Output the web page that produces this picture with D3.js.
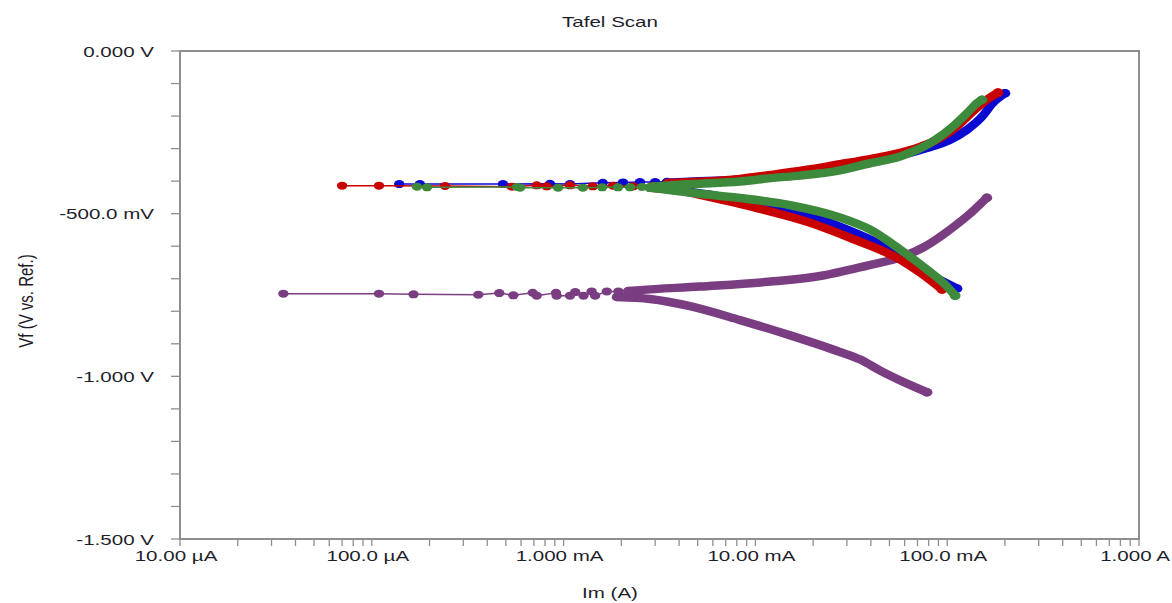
<!DOCTYPE html>
<html>
<head>
<meta charset="utf-8">
<script src="https://cdn.jsdelivr.net/npm/d3@7"></script>
<style>
  html, body { margin: 0; padding: 0; background: #fff; }
  svg { display: block; font-family: "Liberation Sans", Arial, sans-serif; }
</style>
</head>
<body>
<svg id="chart" width="1172" height="603"></svg>
<script>
// Axis ticks and their labels
const xTickValues = [1e-5, 1e-4, 1e-3, 1e-2, 1e-1, 1];
const xTickLabels = ["10.00 µA", "100.0 µA", "1.000 mA", "10.00 mA", "100.0 mA", "1.000 A"];
const yTickValues = [0, -0.5, -1.0, -1.5];
const yTickLabels = ["0.000 V", "-500.0 mV", "-1.000 V", "-1.500 V"];

// Each scan: [current (A), potential (V)]
// Sparse readings close to the corrosion potential
const redNear = [[7.0e-5,-0.414],[1.09e-4,-0.414],[2.41e-4,-0.415],[5.36e-4,-0.417],[7.24e-4,-0.413],[8.17e-4,-0.416],[1.08e-3,-0.413],[1.42e-3,-0.416],[1.81e-3,-0.414],[2.30e-3,-0.416],[2.93e-3,-0.414],[3.46e-3,-0.414]];
const blueNear = [[1.39e-4,-0.409],[1.78e-4,-0.409],[4.83e-4,-0.409],[8.49e-4,-0.408],[1.08e-3,-0.409],[1.60e-3,-0.405],[2.04e-3,-0.404],[2.50e-3,-0.403],[3.00e-3,-0.403],[3.46e-3,-0.402]];
const greenNear = [[1.72e-4,-0.417],[1.94e-4,-0.419],[5.71e-4,-0.418],[5.93e-4,-0.420],[9.35e-4,-0.420],[1.26e-3,-0.420],[1.59e-3,-0.419],[1.92e-3,-0.419],[2.22e-3,-0.419],[2.56e-3,-0.418],[2.93e-3,-0.418]];
const purpleNear = [[3.46e-5,-0.746],[1.09e-4,-0.746],[1.65e-4,-0.748],[3.59e-4,-0.749],[4.62e-4,-0.744],[5.47e-4,-0.751],[6.90e-4,-0.743],[7.24e-4,-0.752],[9.13e-4,-0.743],[9.20e-4,-0.752],[1.08e-3,-0.752],[1.15e-3,-0.741],[1.27e-3,-0.752],[1.40e-3,-0.739],[1.46e-3,-0.752],[1.68e-3,-0.739],[1.93e-3,-0.739],[2.18e-3,-0.738]];

// Anodic branches (dense readings)
const redAnodic = [[3.5e-3,-0.406],[5.14e-3,-0.402],[8.31e-3,-0.393],[1.24e-2,-0.380],[1.86e-2,-0.365],[2.76e-2,-0.348],[3.82e-2,-0.334],[5.68e-2,-0.313],[6.96e-2,-0.298],[9.17e-2,-0.268],[0.1125,-0.232],[0.136,-0.186],[0.161,-0.150],[0.184,-0.128]];
const blueAnodic = [[3.46e-3,-0.405],[5.14e-3,-0.400],[8.31e-3,-0.396],[1.24e-2,-0.387],[1.86e-2,-0.374],[2.76e-2,-0.359],[3.96e-2,-0.340],[5.68e-2,-0.321],[7.85e-2,-0.298],[0.1034,-0.273],[0.127,-0.242],[0.152,-0.202],[0.173,-0.160],[0.200,-0.130]];
const greenAnodic = [[2.93e-3,-0.417],[4.05e-3,-0.411],[5.14e-3,-0.408],[8.31e-3,-0.401],[1.24e-2,-0.390],[1.71e-2,-0.383],[2.76e-2,-0.367],[3.96e-2,-0.345],[5.68e-2,-0.324],[8.43e-2,-0.278],[0.1072,-0.232],[0.127,-0.191],[0.143,-0.160],[0.152,-0.150]];
const purpleAnodic = [[2.18e-3,-0.738],[2.50e-3,-0.735],[5.14e-3,-0.724],[1.24e-2,-0.708],[2.25e-2,-0.690],[3.11e-2,-0.672],[4.10e-2,-0.656],[5.68e-2,-0.635],[7.66e-2,-0.601],[0.1034,-0.549],[0.1315,-0.500],[0.161,-0.451]];

// Cathodic branches (dense readings)
const redCathodic = [[2.82e-3,-0.420],[4.05e-3,-0.429],[5.59e-3,-0.447],[1.02e-2,-0.483],[1.86e-2,-0.525],[3.11e-2,-0.574],[5.68e-2,-0.641],[7.22e-2,-0.681],[9.40e-2,-0.733]];
const blueCathodic = [[3.46e-3,-0.423],[5.80e-3,-0.442],[1.06e-2,-0.472],[1.71e-2,-0.497],[2.76e-2,-0.540],[5.68e-2,-0.626],[8.14e-2,-0.687],[0.1125,-0.730]];
const greenCathodic = [[2.82e-3,-0.420],[3.72e-3,-0.429],[5.14e-3,-0.439],[8.31e-3,-0.452],[1.52e-2,-0.474],[2.76e-2,-0.512],[3.96e-2,-0.549],[5.68e-2,-0.610],[7.85e-2,-0.672],[9.98e-2,-0.724],[0.110,-0.752]];
const purpleCathodic = [[1.90e-3,-0.756],[2.82e-3,-0.762],[4.56e-3,-0.784],[8.31e-3,-0.827],[1.52e-2,-0.874],[2.76e-2,-0.925],[3.51e-2,-0.948],[4.46e-2,-0.982],[6.10e-2,-1.021],[7.85e-2,-1.049]];

const series = [
  { color: "#7b3d81", near: purpleNear, anodic: purpleAnodic, cathodic: purpleCathodic },
  { color: "#0a0ad2", near: blueNear, anodic: blueAnodic, cathodic: blueCathodic },
  { color: "#c80000", near: redNear, anodic: redAnodic, cathodic: redCathodic },
  { color: "#3d8a3d", near: greenNear, anodic: greenAnodic, cathodic: greenCathodic }
];

const SX = 1.37;            // horizontal glyph stretch of the text
const textColor = "#1e1e2a";
const frameColor = "#8e8e8e";

const svg = d3.select("#chart");
const plot = { left: 180, right: 1139, top: 51, bottom: 539 };

const x = d3.scaleLog().domain([1e-5, 1]).range([plot.left, plot.right]);
const y = d3.scaleLinear().domain([0, -1.5]).range([plot.top, plot.bottom]);

svg.append("rect").attr("width", 1172).attr("height", 603).attr("fill", "#fff");

// Frame
svg.append("rect")
  .attr("x", plot.left).attr("y", plot.top)
  .attr("width", plot.right - plot.left).attr("height", plot.bottom - plot.top)
  .attr("fill", "none").attr("stroke", frameColor).attr("stroke-width", 2);

// Y ticks (every 100 mV)
const yTicks = d3.range(0, 16).map(i => -i / 10);
svg.append("g").selectAll("line").data(yTicks).join("line")
  .attr("x1", plot.left - 9).attr("x2", plot.left)
  .attr("y1", d => y(d)).attr("y2", d => y(d))
  .attr("stroke", frameColor).attr("stroke-width", 1.3);

// X ticks (log minor ticks)
svg.append("g").selectAll("line").data(x.ticks()).join("line")
  .attr("x1", d => x(d)).attr("x2", d => x(d))
  .attr("y1", plot.bottom).attr("y2", plot.bottom + 7)
  .attr("stroke", frameColor).attr("stroke-width", 1.3);

function stretchedText(g, tx, ty, str, anchor) {
  g.append("text")
    .attr("transform", `translate(${tx},${ty}) scale(${SX},1)`)
    .attr("text-anchor", anchor)
    .attr("fill", textColor)
    .attr("font-size", 15)
    .text(str);
}

const labels = svg.append("g");
yTickValues.forEach((v, i) => stretchedText(labels, 154, y(v) + 5.5, yTickLabels[i], "end"));
xTickValues.forEach((v, i) => stretchedText(labels, x(v) - 4, 561, xTickLabels[i], "middle"));

// Title and axis titles
stretchedText(labels, 610, 27, "Tafel Scan", "middle");
stretchedText(labels, 610, 598, "Im (A)", "middle");
labels.append("text")
  .attr("transform", `translate(33,301) scale(${SX},1) rotate(-90)`)
  .attr("text-anchor", "middle")
  .attr("fill", textColor)
  .attr("font-size", 15)
  .text("Vf (V vs. Ref.)");

// Curves
const thin = d3.line().x(d => x(d[0])).y(d => y(d[1]));
const smooth = d3.line().x(d => x(d[0])).y(d => y(d[1])).curve(d3.curveMonotoneX);

const marks = svg.append("g");
series.forEach(s => {
  const g = marks.append("g");
  // thin trace through the sparse readings into both branches
  g.append("path")
    .attr("d", thin(s.near.concat([s.anodic[0]])))
    .attr("fill", "none").attr("stroke", s.color).attr("stroke-width", 1.5);
  g.append("path")
    .attr("d", thin([s.near[s.near.length - 1], s.cathodic[0]]))
    .attr("fill", "none").attr("stroke", s.color).attr("stroke-width", 1.5);
  // dense branches: overlapping markers form a solid band
  [s.cathodic, s.anodic].forEach(branch => {
    g.append("path")
      .attr("d", smooth(branch))
      .attr("fill", "none").attr("stroke", s.color)
      .attr("stroke-width", 8.5).attr("stroke-linecap", "round").attr("stroke-linejoin", "round");
    g.selectAll(null).data([branch[0], branch[branch.length - 1]]).join("ellipse")
      .attr("cx", d => x(d[0])).attr("cy", d => y(d[1]))
      .attr("rx", 5.4).attr("ry", 4.3).attr("fill", s.color);
  });
  // markers for sparse readings
  g.selectAll("ellipse.pt").data(s.near).join("ellipse")
    .attr("class", "pt")
    .attr("cx", d => x(d[0])).attr("cy", d => y(d[1]))
    .attr("rx", 5.2).attr("ry", 4).attr("fill", s.color);
});
</script>
</body>
</html>
